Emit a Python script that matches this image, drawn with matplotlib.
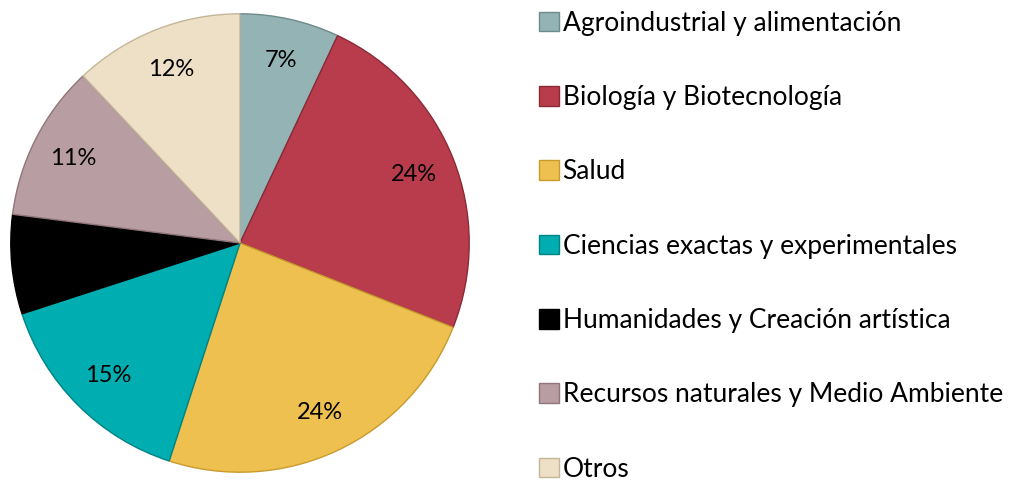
import matplotlib
matplotlib.use("Agg")
import matplotlib.pyplot as plt
from matplotlib.patches import Patch

categories = ["Agroindustrial y alimentación", "Biología y Biotecnología", "Salud",
              "Ciencias exactas y experimentales", "Humanidades y Creación artística",
              "Recursos naturales y Medio Ambiente", "Otros"]
values = [7, 24, 24, 15, 7, 11, 12]
colors = ["#93B3B5", "#B93C4C", "#EEC050", "#00ADB0", "#000000", "#B89DA2", "#EDE0C6"]
edges = ["#6F8A8C", "#8A2A37", "#C99A2E", "#008486", "#000000", "#8E767B", "#C4B698"]

plt.rcParams['font.family'] = ['Lato', 'DejaVu Sans']

fig = plt.figure(figsize=(10.11, 4.84), dpi=100)
ax = fig.add_axes([8.5/1011, 9.5/484, 463/1011, 463/484])
wedges, texts, autotexts = ax.pie(values, colors=colors, startangle=90, counterclock=False,
                                  autopct=lambda p: f"{p:.0f}%", pctdistance=0.815,
                                  wedgeprops=dict(linewidth=1.0),
                                  textprops=dict(fontsize=17, color="black"))
for w, e in zip(wedges, edges):
    w.set_edgecolor(e)
ax.set_xlim(-1.01, 1.01)
ax.set_ylim(-1.01, 1.01)
ax.set_aspect('equal')
ax.axis('off')

handles = [Patch(facecolor=c, edgecolor=e, linewidth=1) for c, e in zip(colors, edges)]
leg = fig.legend(handles, categories, loc="upper left", bbox_to_anchor=(536/1011, 1 - 8/484),
                 frameon=False, fontsize=19, handlelength=0.76, handleheight=0.76,
                 handletextpad=0.15, labelspacing=1.87, borderaxespad=0, borderpad=0.1)

fig.savefig("out.png", dpi=100)
